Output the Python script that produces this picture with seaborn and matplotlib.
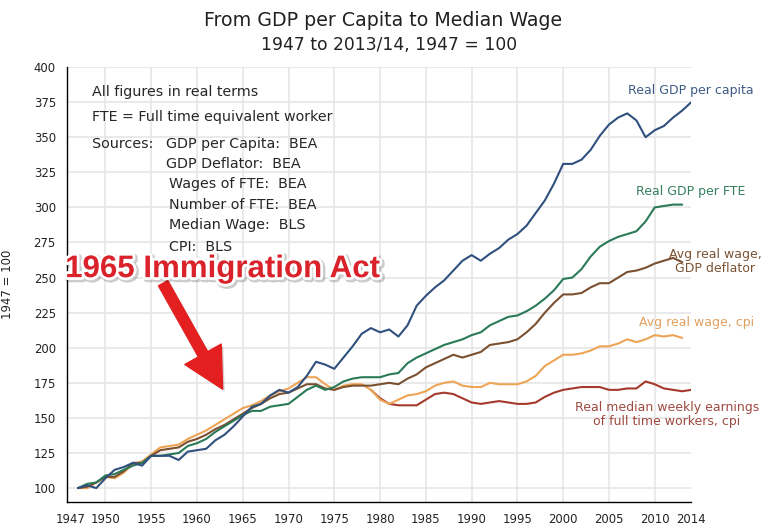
import numpy as np
import pandas as pd
import matplotlib
matplotlib.use("Agg")
import matplotlib.pyplot as plt
import matplotlib.patheffects as pe
import matplotlib.transforms as mtransforms
import seaborn as sns

# data (1947 = 100)
years_cap = list(range(1947, 2015))
gdp_per_capita = [100, 102, 100, 107, 113, 115, 118, 116, 123, 123,
                  123, 120, 126, 127, 128, 134, 138, 144, 151, 158,
                  160, 166, 170, 168, 172, 180, 190, 188, 185, 193,
                  201, 210, 214, 211, 213, 208, 216, 230, 237, 243,
                  248, 255, 262, 266, 262, 267, 271, 277, 281, 287,
                  296, 305, 317, 331, 331, 334, 341, 351, 359, 364,
                  367, 362, 350, 355, 358, 364, 369, 375]

years_fte = list(range(1947, 2014))
gdp_per_fte = [100, 103, 104, 109, 110, 113, 116, 118, 123, 123,
               124, 125, 130, 132, 135, 140, 144, 148, 152, 155,
               155, 158, 159, 160, 165, 170, 173, 170, 172, 176,
               178, 179, 179, 179, 181, 182, 189, 193, 196, 199,
               202, 204, 206, 209, 211, 216, 219, 222, 223, 226,
               230, 235, 241, 249, 250, 256, 265, 272, 276, 279,
               281, 283, 290, 300, 301, 302, 302]

wage_deflator = [100, 101, 104, 108, 108, 112, 118, 118, 123, 127,
                 128, 129, 133, 135, 138, 142, 145, 149, 153, 157,
                 160, 164, 167, 168, 171, 174, 174, 171, 170, 172,
                 173, 173, 173, 174, 175, 174, 178, 181, 186, 189,
                 192, 195, 193, 195, 197, 202, 203, 204, 206, 211,
                 217, 225, 232, 238, 238, 239, 243, 246, 246, 250,
                 254, 255, 257, 260, 262, 264, 261]

wage_cpi = [100, 100, 104, 108, 107, 111, 117, 119, 124, 129,
            130, 131, 135, 138, 141, 145, 149, 153, 157, 159,
            162, 166, 169, 171, 175, 179, 179, 174, 170, 173,
            174, 174, 170, 163, 160, 163, 166, 167, 169, 173,
            175, 176, 173, 172, 172, 175, 174, 174, 174, 176,
            180, 187, 191, 195, 195, 196, 198, 201, 201, 203,
            206, 204, 206, 209, 208, 209, 207]

years_med = list(range(1979, 2015))
median_weekly = [170, 164, 160, 159, 159, 159, 163, 167, 168, 167,
                 164, 161, 160, 161, 162, 161, 160, 160, 161, 165,
                 168, 170, 171, 172, 172, 172, 170, 170, 171, 171,
                 176, 174, 171, 170, 169, 170]

series = ["Real GDP per capita", "Real GDP per FTE", "Avg real wage, GDP deflator",
          "Avg real wage, cpi", "Real median weekly earnings"]
colors = ["#30507e", "#2a7a58", "#7a5030", "#eea455", "#a53a2c"]
label_colors = ["#3d5a84", "#347f5e", "#7b5333", "#e0a060", "#9e4a40"]

df = pd.concat([
    pd.DataFrame({"year": years_cap, "value": gdp_per_capita, "series": series[0]}),
    pd.DataFrame({"year": years_fte, "value": gdp_per_fte, "series": series[1]}),
    pd.DataFrame({"year": years_fte, "value": wage_deflator, "series": series[2]}),
    pd.DataFrame({"year": years_fte, "value": wage_cpi, "series": series[3]}),
    pd.DataFrame({"year": years_med, "value": median_weekly, "series": series[4]}),
])

sns.set_style("white")
plt.rcParams['font.family'] = ['DejaVu Sans']

fig = plt.figure(figsize=(7.68, 5.28), dpi=100)
ax = fig.add_axes([0.0872, 0.049, 0.813, 0.824])

# draw in reverse so GDP per capita sits on top like in the original
sns.lineplot(data=df, x="year", y="value", hue="series",
             hue_order=series[::-1], palette=colors[::-1],
             linewidth=1.5, legend=False, ax=ax)

ax.set_xlim(1945.8, 2014)
ax.set_ylim(90, 400)
xticks = [1947] + list(range(1950, 2011, 5)) + [2014]
ax.set_xticks(xticks)
ax.set_yticks(range(100, 401, 25))
ax.grid(True, color="#e6e6e6", linewidth=1.2)
ax.set_axisbelow(True)
gl = ax.get_xgridlines()
gl[0].set_visible(False)
gl[-1].set_visible(False)

for s in ["top", "right"]:
    ax.spines[s].set_visible(False)
for s in ["left", "bottom"]:
    ax.spines[s].set_color("black")
    ax.spines[s].set_linewidth(1.0)
ax.tick_params(direction="out", length=4, width=1, color="black",
               labelsize=8.4, labelcolor="#222222", pad=4)
# nudge the 1947 label left so it does not touch 1950
first = ax.get_xticklabels()[0]
first.set_transform(first.get_transform() +
                    mtransforms.ScaledTranslation(-5 / 72, 0, fig.dpi_scale_trans))
ax.set_xlabel("")
ax.set_ylabel("1947 = 100", fontsize=8.4, color="#222222", labelpad=14)

fig.text(0.499, 0.962, "From GDP per Capita to Median Wage", ha="center",
         va="center", fontsize=13.7, color="#222222")
fig.text(0.506, 0.915, "1947 to 2013/14, 1947 = 100", ha="center",
         va="center", fontsize=12.3, color="#222222")

# notes block
notes = ax.transAxes
fs = 10.3
ax.text(0.040, 0.943, "All figures in real terms", transform=notes, fontsize=fs, va="center")
ax.text(0.040, 0.885, "FTE = Full time equivalent worker", transform=notes, fontsize=fs, va="center")
ax.text(0.040, 0.823, "Sources:", transform=notes, fontsize=fs, va="center")
src = ["GDP per Capita:  BEA", "GDP Deflator:  BEA", "Wages of FTE:  BEA",
       "Number of FTE:  BEA", "Median Wage:  BLS", "CPI:  BLS"]
src_y = [0.823, 0.777, 0.731, 0.683, 0.637, 0.586]
src_x = [0.159, 0.159, 0.164, 0.164, 0.164, 0.164]
for t, xx, yy in zip(src, src_x, src_y):
    ax.text(xx, yy, t, transform=notes, fontsize=fs, va="center")

# series labels
ax.text(2013.9, 383, "Real GDP per capita", color=label_colors[0], fontsize=9,
        ha="center", va="center")
ax.text(2013.9, 311.5, "Real GDP per FTE", color=label_colors[1], fontsize=9,
        ha="center", va="center")
ax.text(2016.6, 261.4, "Avg real wage,\nGDP deflator", color=label_colors[2], fontsize=9,
        ha="center", va="center", linespacing=1.15)
ax.text(2014.6, 218.2, "Avg real wage, cpi", color=label_colors[3], fontsize=9,
        ha="center", va="center")
ax.text(2011.3, 152.3, "Real median weekly earnings\nof full time workers, cpi",
        color=label_colors[4], fontsize=9, ha="center", va="center", linespacing=1.15)

# annotation with arrow
ax.annotate("", xy=(1962.8, 170.5), xytext=(1956.3, 246),
            arrowprops=dict(arrowstyle="simple,head_width=1.25,head_length=1.2,tail_width=0.32",
                            color="#e3201f", shrinkA=0, shrinkB=0, mutation_scale=24,
                            path_effects=[pe.SimplePatchShadow(offset=(1.5, -1.5), alpha=0.2),
                                          pe.Normal()]))
ax.text(1945.6, 256, "1965 Immigration Act", color="#d9222a", fontsize=22.5,
        fontweight="bold", family=["Liberation Sans", "DejaVu Sans"], va="center",
        path_effects=[pe.Stroke(offset=(1.2, -1.2), linewidth=5, foreground="black", alpha=0.2),
                      pe.Stroke(linewidth=4, foreground="white"), pe.Normal()])

fig.savefig("out.png", dpi=100, facecolor="white")
